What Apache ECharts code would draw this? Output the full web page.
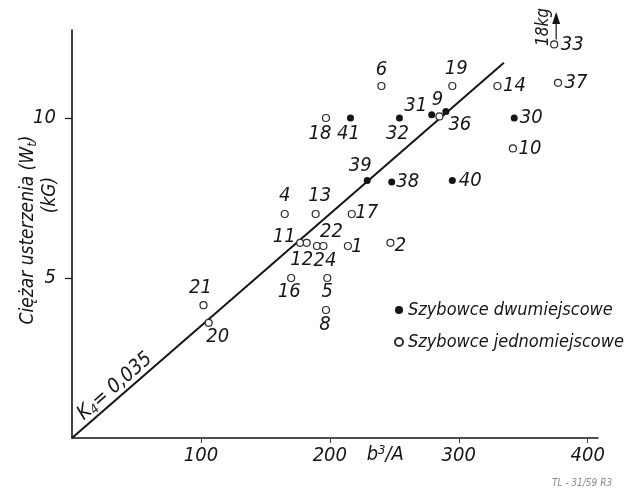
<!DOCTYPE html>
<html>
<head>
<meta charset="utf-8">
<script src="https://cdn.jsdelivr.net/npm/echarts@6/dist/echarts.min.js"></script>
<style>
  html, body { margin: 0; padding: 0; background: #ffffff; }
  #chart { width: 635px; height: 493px; }
</style>
</head>
<body>
<div id="chart"></div>
<script>
// Gliders: tail unit weight Wt (kG) against b^3/A
const twoSeatNames = ['41', '32', '31', '36', '39', '38', '40', '30'];
const twoSeatX     = [216, 254, 279, 290, 229, 248, 295, 343];
const twoSeatY     = [10.0, 10.0, 10.1, 10.2, 8.05, 8.0, 8.05, 10.0];

const oneSeatNames = ['18', '6', '9', '19', '14', '37', '33', '10', '4', '13', '17',
                      '11', '12', '24', '22', '1', '2', '16', '5', '8', '21', '20'];
const oneSeatX     = [197, 240, 285, 295, 330, 377, 374, 342, 165, 189, 217,
                      177, 182, 190, 195, 214, 247, 170, 198, 197, 102, 106];
const oneSeatY     = [10.0, 11.0, 10.05, 11.0, 11.0, 11.1, 12.3, 9.05, 7.0, 7.0, 7.0,
                      6.1, 6.1, 6.0, 6.0, 6.0, 6.1, 5.0, 5.0, 4.0, 4.15, 3.6];

const xTicks = [100, 200, 300, 400];
const yTicks = [5, 10];

// Reference line Wt = k4 * b^3/A
const K4 = 0.035;
const kLineX = [0, 335];

// Glider whose real value lies above the scale
const offScaleName = '33';
const offScaleText = '18kg';

const seriesNames = ['Szybowce dwumiejscowe', 'Szybowce jednomiejscowe'];

// label placement around each marker (pixel offsets from the marker centre)
const labelOffset = {
  '41': [-2, 16], '32': [-2, 16], '31': [-16, -9], '36': [14, 13], '39': [-7, -15],
  '38': [16, 0], '40': [18, 0], '30': [17, 0],
  '18': [-6, 16], '6': [0, -16], '9': [-2, -17], '19': [4, -17], '14': [17, 0],
  '37': [18, 0], '33': [18, 0], '10': [17, 0], '4': [0, -18], '13': [4, -18],
  '17': [15, -1], '11': [-16, -6], '12': [-5, 17], '24': [8, 15], '22': [8, -14],
  '1': [9, 1], '2': [10, 3], '16': [-2, 14], '5': [0, 14], '8': [-1, 15],
  '21': [-3, -17], '20': [9, 14]
};

const FONT = "'Liberation Sans Narrow', 'DejaVu Sans Condensed', 'DejaVu Sans', sans-serif";
const INK = '#151515';

function buildPoints(names, xs, ys) {
  return names.map((n, i) => ({
    name: n,
    value: [xs[i], ys[i]],
    label: { offset: labelOffset[n] || [14, 0] }
  }));
}

const pointLabel = {
  show: true,
  position: 'inside',
  formatter: p => p.name,
  fontFamily: FONT,
  fontStyle: 'italic',
  fontSize: 20,
  color: INK
};

const chart = echarts.init(document.getElementById('chart'), null, { renderer: 'canvas' });

chart.setOption({
  backgroundColor: '#ffffff',
  animation: false,
  grid: { left: 72, top: 30, width: 526, height: 408, containLabel: false },
  xAxis: {
    type: 'value',
    min: 0,
    max: 408,
    splitLine: { show: false },
    axisLine: { show: true, lineStyle: { color: INK, width: 1.6 } },
    axisTick: { show: true, customValues: xTicks, length: 5, lineStyle: { color: '#444', width: 1 } },
    axisLabel: {
      customValues: xTicks, margin: 8,
      fontFamily: FONT, fontStyle: 'italic', fontSize: 20, color: INK
    }
  },
  yAxis: {
    type: 'value',
    min: 0,
    max: 12.75,
    splitLine: { show: false },
    axisLine: { show: true, lineStyle: { color: INK, width: 1.6 } },
    axisTick: { show: true, customValues: yTicks, length: 7, lineStyle: { color: INK, width: 1.2 } },
    axisLabel: {
      customValues: yTicks, margin: 16,
      fontFamily: FONT, fontStyle: 'italic', fontSize: 20, color: INK
    }
  },
  legend: {
    orient: 'vertical',
    left: 389,
    top: 296,
    itemGap: 14,
    itemWidth: 8,
    itemHeight: 8,
    data: seriesNames,
    textStyle: { fontFamily: FONT, fontStyle: 'italic', fontSize: 18, color: INK }
  },
  series: [
    {
      name: 'k4',
      type: 'line',
      data: kLineX.map(x => [x, K4 * x]),
      symbol: 'none',
      lineStyle: { color: INK, width: 2 },
      silent: true,
      z: 1
    },
    {
      name: seriesNames[0],
      type: 'scatter',
      symbol: 'circle',
      symbolSize: 7,
      itemStyle: { color: INK, opacity: 1 },
      label: pointLabel,
      data: buildPoints(twoSeatNames, twoSeatX, twoSeatY),
      z: 3
    },
    {
      name: seriesNames[1],
      type: 'scatter',
      symbol: 'circle',
      symbolSize: 7,
      itemStyle: { color: '#ffffff', borderColor: '#2a2a2a', borderWidth: 1.2, opacity: 1 },
      label: pointLabel,
      data: buildPoints(oneSeatNames, oneSeatX, oneSeatY),
      z: 3
    }
  ]
});

// Annotations positioned through the chart's own coordinate system
const idx = oneSeatNames.indexOf(offScaleName);
const p33 = chart.convertToPixel({ seriesIndex: 2 }, [oneSeatX[idx], oneSeatY[idx]]);
const origin = chart.convertToPixel({ seriesIndex: 0 }, [0, 0]);
const kMid = chart.convertToPixel({ seriesIndex: 0 }, [38, K4 * 38]);
const kEnd = chart.convertToPixel({ seriesIndex: 0 }, [kLineX[1], K4 * kLineX[1]]);
const kAngle = Math.atan2(origin[1] - kEnd[1], kEnd[0] - origin[0]);
const xLabelPos = chart.convertToPixel({ seriesIndex: 0 }, [243, 0]);

chart.setOption({
  graphic: [
    // axis title
    {
      type: 'text', x: 28, y: 230, rotation: Math.PI / 2,
      style: {
        text: '{a|Ciężar usterzenia (W}{s|t}{a|)}',
        align: 'center', verticalAlign: 'middle',
        rich: {
          a: { fontFamily: FONT, fontStyle: 'italic', fontSize: 19, lineHeight: 22, fill: INK },
          s: { fontFamily: FONT, fontStyle: 'italic', fontSize: 13, lineHeight: 22, verticalAlign: 'bottom', fill: INK }
        }
      }
    },
    {
      type: 'text', x: 50, y: 195, rotation: Math.PI / 2,
      style: {
        text: '(kG)', align: 'center', verticalAlign: 'middle',
        font: "italic 19px " + FONT, fill: INK
      }
    },
    // x axis quantity
    {
      type: 'text', x: xLabelPos[0], y: xLabelPos[1] + 17,
      style: {
        text: '{a|b}{s|3}{a|/A}',
        align: 'center', verticalAlign: 'middle',
        rich: {
          a: { fontFamily: FONT, fontStyle: 'italic', fontSize: 20, lineHeight: 22, fill: INK },
          s: { fontFamily: FONT, fontStyle: 'italic', fontSize: 13, lineHeight: 22, verticalAlign: 'top', fill: INK }
        }
      }
    },
    // k4 label along the line
    {
      type: 'text', x: kMid[0] - 6, y: kMid[1] - 9, rotation: kAngle,
      style: {
        text: '{a|K}{s|4}{a|= 0,035}',
        align: 'center', verticalAlign: 'middle',
        rich: {
          a: { fontFamily: FONT, fontStyle: 'italic', fontSize: 20, lineHeight: 22, fill: INK },
          s: { fontFamily: FONT, fontStyle: 'italic', fontSize: 13, lineHeight: 22, verticalAlign: 'bottom', fill: INK }
        }
      }
    },
    // off-scale arrow for glider 33
    {
      type: 'line',
      shape: { x1: p33[0] + 2, y1: p33[1] - 5, x2: p33[0] + 2, y2: 20 },
      style: { stroke: INK, lineWidth: 1.2 }
    },
    {
      type: 'polygon',
      shape: { points: [[p33[0] + 2, 12], [p33[0] - 2, 24], [p33[0] + 6, 24]] },
      style: { fill: INK }
    },
    {
      type: 'text', x: p33[0] - 11, y: 27, rotation: Math.PI / 2,
      style: {
        text: offScaleText, align: 'center', verticalAlign: 'middle',
        font: "italic 17px " + FONT, fill: INK
      }
    },
    // drawing reference mark
    {
      type: 'text', x: 582, y: 483,
      style: {
        text: 'TL - 31/59 R3', align: 'center', verticalAlign: 'middle',
        font: "italic 10px " + FONT, fill: '#8a8a8a'
      }
    }
  ]
});
</script>
</body>
</html>
